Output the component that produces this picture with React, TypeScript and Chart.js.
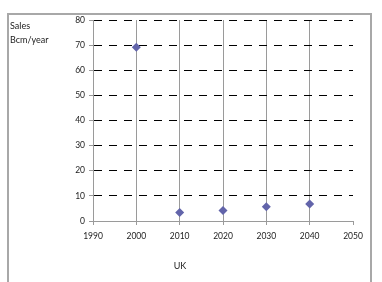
import React, { useEffect, useRef } from "react";
import { Chart, registerables } from "chart.js";

Chart.register(...registerables);

const years = [2000, 2010, 2020, 2030, 2040];
const sales = [69.2, 3.4, 4.2, 5.7, 6.8];
const xTicks = [1990, 2000, 2010, 2020, 2030, 2040, 2050];
const yTicks = [0, 10, 20, 30, 40, 50, 60, 70, 80];
const yLabelLines = ["Sales", "Bcm/year"];
const xTitle = "UK";

const FONT = "Lato, 'Liberation Sans', sans-serif";

export default function App() {
  const ref = useRef<HTMLCanvasElement | null>(null);

  useEffect(() => {
    if (!ref.current) return;
    const chart = new Chart(ref.current, {
      type: "scatter",
      data: {
        datasets: [
          {
            data: years.map((y, i) => ({ x: y, y: sales[i] })),
            pointStyle: "rectRot",
            pointRadius: 4.5,
            backgroundColor: "#6264aa",
            borderColor: "#6264aa",
            borderWidth: 0,
          },
        ],
      },
      options: {
        animation: false,
        responsive: false,
        maintainAspectRatio: false,
        layout: { padding: { left: 0, top: 20, right: 29, bottom: 41 } },
        plugins: { legend: { display: false }, tooltip: { enabled: false } },
        scales: {
          x: {
            type: "linear",
            min: xTicks[0],
            max: xTicks[xTicks.length - 1],
            afterBuildTicks: (s: any) => {
              s.ticks = xTicks.map((v) => ({ value: v }));
            },
            afterFit: (s: any) => {
              s.height = 20;
            },
            ticks: {
              font: { family: FONT, size: 8.5 },
              color: "#222",
              padding: 6,
              maxRotation: 0,
              callback: (v: any) => String(v),
            },
            grid: {
              color: (c: any) =>
                c.tick && (c.tick.value === 1990 || c.tick.value === 2050) ? "rgba(0,0,0,0)" : "#9a9a9a",
              tickColor: "#9a9a9a",
              tickLength: 4,
              lineWidth: 1,
            },
            border: { display: true, color: "#9a9a9a", width: 1 },
          },
          y: {
            min: 0,
            max: 80,
            afterBuildTicks: (s: any) => {
              s.ticks = yTicks.map((v) => ({ value: v }));
            },
            afterFit: (s: any) => {
              s.width = 93;
            },
            ticks: {
              font: { family: FONT, size: 8.5 },
              color: "#222",
              padding: 4,
              callback: (v: any) => String(v),
            },
            grid: {
              color: (c: any) => (c.tick && c.tick.value === 0 ? "rgba(0,0,0,0)" : "#000"),
              tickColor: "#9a9a9a",
              tickLength: 4,
              lineWidth: 1,
            },
            border: { display: true, color: "#9a9a9a", width: 1, dash: [8, 7] },
          },
        },
      },
    });
    return () => chart.destroy();
  }, []);

  const textStyle: React.CSSProperties = {
    position: "absolute",
    fontFamily: FONT,
    fontSize: "9px",
    lineHeight: "11px",
    color: "#222",
    whiteSpace: "nowrap",
  };

  return (
    <div
      style={{
        position: "fixed",
        left: 0,
        top: 0,
        width: 382,
        height: 282,
        overflow: "hidden",
        background: "#fff",
      }}
    >
      <div
        style={{
          position: "absolute",
          left: 7,
          top: 13,
          width: 365,
          height: 300,
          border: "2px solid #a8a8a8",
          boxSizing: "border-box",
        }}
      />
      <canvas ref={ref} width={382} height={282} style={{ position: "absolute", left: 0, top: 0 }} />
      <div style={{ ...textStyle, left: 10, top: 20 }}>{yLabelLines[0]}</div>
      <div style={{ ...textStyle, left: 10, top: 34 }}>{yLabelLines[1]}</div>
      <div style={{ ...textStyle, left: 160, top: 260, width: 40, textAlign: "center" }}>{xTitle}</div>
    </div>
  );
}
